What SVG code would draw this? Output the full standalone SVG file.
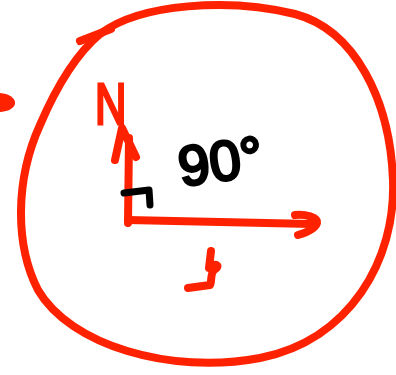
<svg xmlns="http://www.w3.org/2000/svg" width="396" height="375" viewBox="0 0 396 375">
<style>
.r{fill:none;stroke:#FF2200;stroke-width:8;stroke-linecap:round;stroke-linejoin:round}
.k{fill:none;stroke:#000;stroke-width:7;stroke-linecap:round;stroke-linejoin:round}
.lr{font-family:"Liberation Sans",Arial,sans-serif;fill:#FF2200;stroke:#FF2200;stroke-width:3}
.lk{font-family:"Liberation Sans",Arial,sans-serif;fill:#000;stroke:#000;stroke-width:3}
</style>
<rect width="396" height="375" fill="#fff"/>
<g id="circle">
<path class="r" d="M100,34 C140,3 230,-2 295,14 C355,30 390,100 393,180 C396,260 350,340 260,358 C170,375 70,345 38,290 C15,245 15,180 40,125 C55,90 75,55 100,34"/>
<path class="r" d="M80,41 L111,29"/>
</g>
<g id="edge-mark">
<path d="M-2,93 C8,93 16,98 15,104 C13,110 5,112 -2,112 Z" fill="#FF2200"/>
</g>
<g id="connectors">
<path class="r" d="M128,223 L129,138"/>
<path class="r" d="M115,160 L122,128 L136,157"/>
<path class="r" d="M128,220 C190,221 250,223 312,224"/>
<path class="r" d="M295,215 C305,214 318,217 317,223 C315,229 305,233 298,235"/>
</g>
<g id="right-angle">
<path class="k" d="M124,193 L149,190 L150,205"/>
</g>
<g id="label-N">
<text class="lr" x="0" y="0" font-size="58" transform="translate(95,124) scale(0.75,1)">N</text>
</g>
<g id="label-90">
<text class="lk" x="178" y="182" font-size="56" transform="rotate(-8 210 160)">90°</text>
</g>
<g id="label-t">
<path class="r" d="M211,251 L209,268 C216,262 221,266 214,270 C210,274 212,282 210,285 L188,288"/>
</g>
</svg>
